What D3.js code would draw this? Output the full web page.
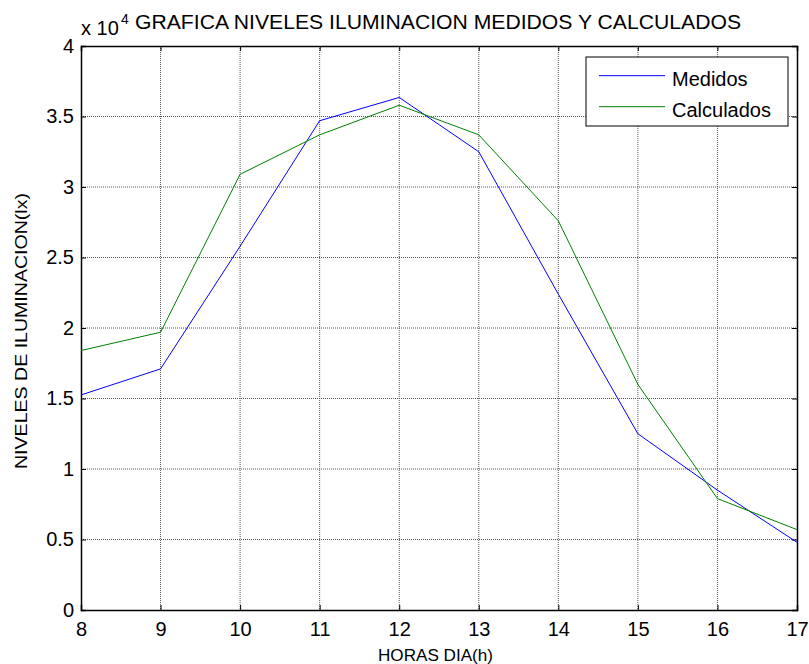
<!DOCTYPE html>
<html>
<head>
<meta charset="utf-8">
<script src="https://cdn.jsdelivr.net/npm/d3@7"></script>
<style>
  body { margin: 0; background: #fff; }
  svg text { font-family: "Liberation Sans", Arial, sans-serif; fill: #000; }
</style>
</head>
<body>
<div id="chart"></div>
<script>
// datos (x 10^4)
var horas = [8, 9, 10, 11, 12, 13, 14, 15, 16, 17];
var medidos = [1.525, 1.71, 2.58, 3.47, 3.635, 3.25, 2.24, 1.25, 0.85, 0.48];
var calculados = [1.84, 1.97, 3.09, 3.37, 3.58, 3.37, 2.76, 1.6, 0.79, 0.57];
var yTicks = [0, 0.5, 1, 1.5, 2, 2.5, 3, 3.5, 4];
var series = [
  {name: "Medidos", values: medidos, color: "#0000ff"},
  {name: "Calculados", values: calculados, color: "#008000"}
];

var W = 809, H = 664;
var margin = {top: 46, right: 12, bottom: 54, left: 81},
    width = W - margin.left - margin.right,
    height = H - margin.top - margin.bottom;

var svg = d3.select("#chart").append("svg")
    .attr("width", W)
    .attr("height", H);
var g = svg.append("g")
    .attr("transform", "translate(" + margin.left + "," + margin.top + ")");

var x = d3.scaleLinear().domain([8, 17]).range([0, width]);
var y = d3.scaleLinear().domain([0, 4]).range([height, 0]);

// grid
g.append("g").selectAll("line").data(horas.slice(1, -1)).enter().append("line")
    .attr("x1", function(d) { return x(d); }).attr("x2", function(d) { return x(d); })
    .attr("y1", 0).attr("y2", height)
    .attr("stroke", "#555").attr("stroke-width", 1).attr("stroke-dasharray", "1,1");
g.append("g").selectAll("line").data(yTicks.slice(1, -1)).enter().append("line")
    .attr("y1", function(d) { return y(d); }).attr("y2", function(d) { return y(d); })
    .attr("x1", 0).attr("x2", width)
    .attr("stroke", "#555").attr("stroke-width", 1).attr("stroke-dasharray", "1,1");

// ejes
var xAxis = g.append("g")
    .attr("transform", "translate(0," + height + ")")
    .call(d3.axisBottom(x).tickValues(horas).tickSize(-5).tickPadding(12).tickFormat(d3.format("d")));
var yAxis = g.append("g")
    .call(d3.axisLeft(y).tickValues(yTicks).tickSize(-5).tickPadding(7).tickFormat(function(d) { return d; }));
g.append("g")
    .call(d3.axisTop(x).tickValues(horas).tickSize(-5).tickFormat(""));
g.append("g")
    .attr("transform", "translate(" + width + ",0)")
    .call(d3.axisRight(y).tickValues(yTicks).tickSize(-5).tickFormat(""));

g.selectAll(".domain").attr("stroke", "#000").attr("stroke-width", 1.5);
g.selectAll(".tick line").attr("stroke", "#000");
g.selectAll(".tick text").style("font-size", "20px").style("font-family", "Liberation Sans, Arial, sans-serif").attr("fill", "#000");
xAxis.selectAll(".tick text").attr("dy", "0.71em");

// lineas
var line = d3.line()
    .x(function(d, i) { return x(horas[i]); })
    .y(function(d) { return y(d); });

g.selectAll(".serie").data(series).enter().append("path")
    .attr("class", "serie")
    .attr("d", function(s) { return line(s.values); })
    .attr("fill", "none")
    .attr("stroke", function(s) { return s.color; })
    .attr("stroke-width", 1);

// titulo
svg.append("text")
    .attr("x", 438)
    .attr("y", 29)
    .attr("text-anchor", "middle")
    .attr("textLength", 606)
    .attr("lengthAdjust", "spacingAndGlyphs")
    .style("font-size", "20px")
    .text("GRAFICA NIVELES ILUMINACION MEDIDOS Y CALCULADOS");
svg.append("text")
    .attr("x", 81)
    .attr("y", 35)
    .style("font-size", "20px")
    .text("x 10");
svg.append("text")
    .attr("x", 121)
    .attr("y", 24)
    .style("font-size", "14px")
    .text("4");

// etiquetas de ejes
svg.append("text")
    .attr("x", 435.5)
    .attr("y", 661)
    .attr("text-anchor", "middle")
    .attr("textLength", 115)
    .attr("lengthAdjust", "spacingAndGlyphs")
    .style("font-size", "17px")
    .text("HORAS DIA(h)");
svg.append("text")
    .attr("transform", "translate(27,331) rotate(-90)")
    .attr("text-anchor", "middle")
    .attr("textLength", 276)
    .attr("lengthAdjust", "spacingAndGlyphs")
    .style("font-size", "17px")
    .text("NIVELES DE ILUMINACION(lx)");

// leyenda
var leg = svg.append("g").attr("transform", "translate(586,57)");
leg.append("rect")
    .attr("width", 202).attr("height", 69)
    .attr("fill", "#fff").attr("stroke", "#000").attr("stroke-width", 1);
leg.selectAll(".item").data(series).enter().append("g")
    .attr("class", "item")
    .attr("transform", function(d, i) { return "translate(0," + (18.7 + i * 31) + ")"; })
    .each(function(d) {
      var it = d3.select(this);
      it.append("line").attr("x1", 13).attr("x2", 79).attr("y1", 0).attr("y2", 0)
        .attr("stroke", d.color).attr("stroke-width", 1);
      it.append("text").attr("x", 86).attr("y", 10).style("font-size", "20px").text(d.name);
    });
</script>
</body>
</html>
